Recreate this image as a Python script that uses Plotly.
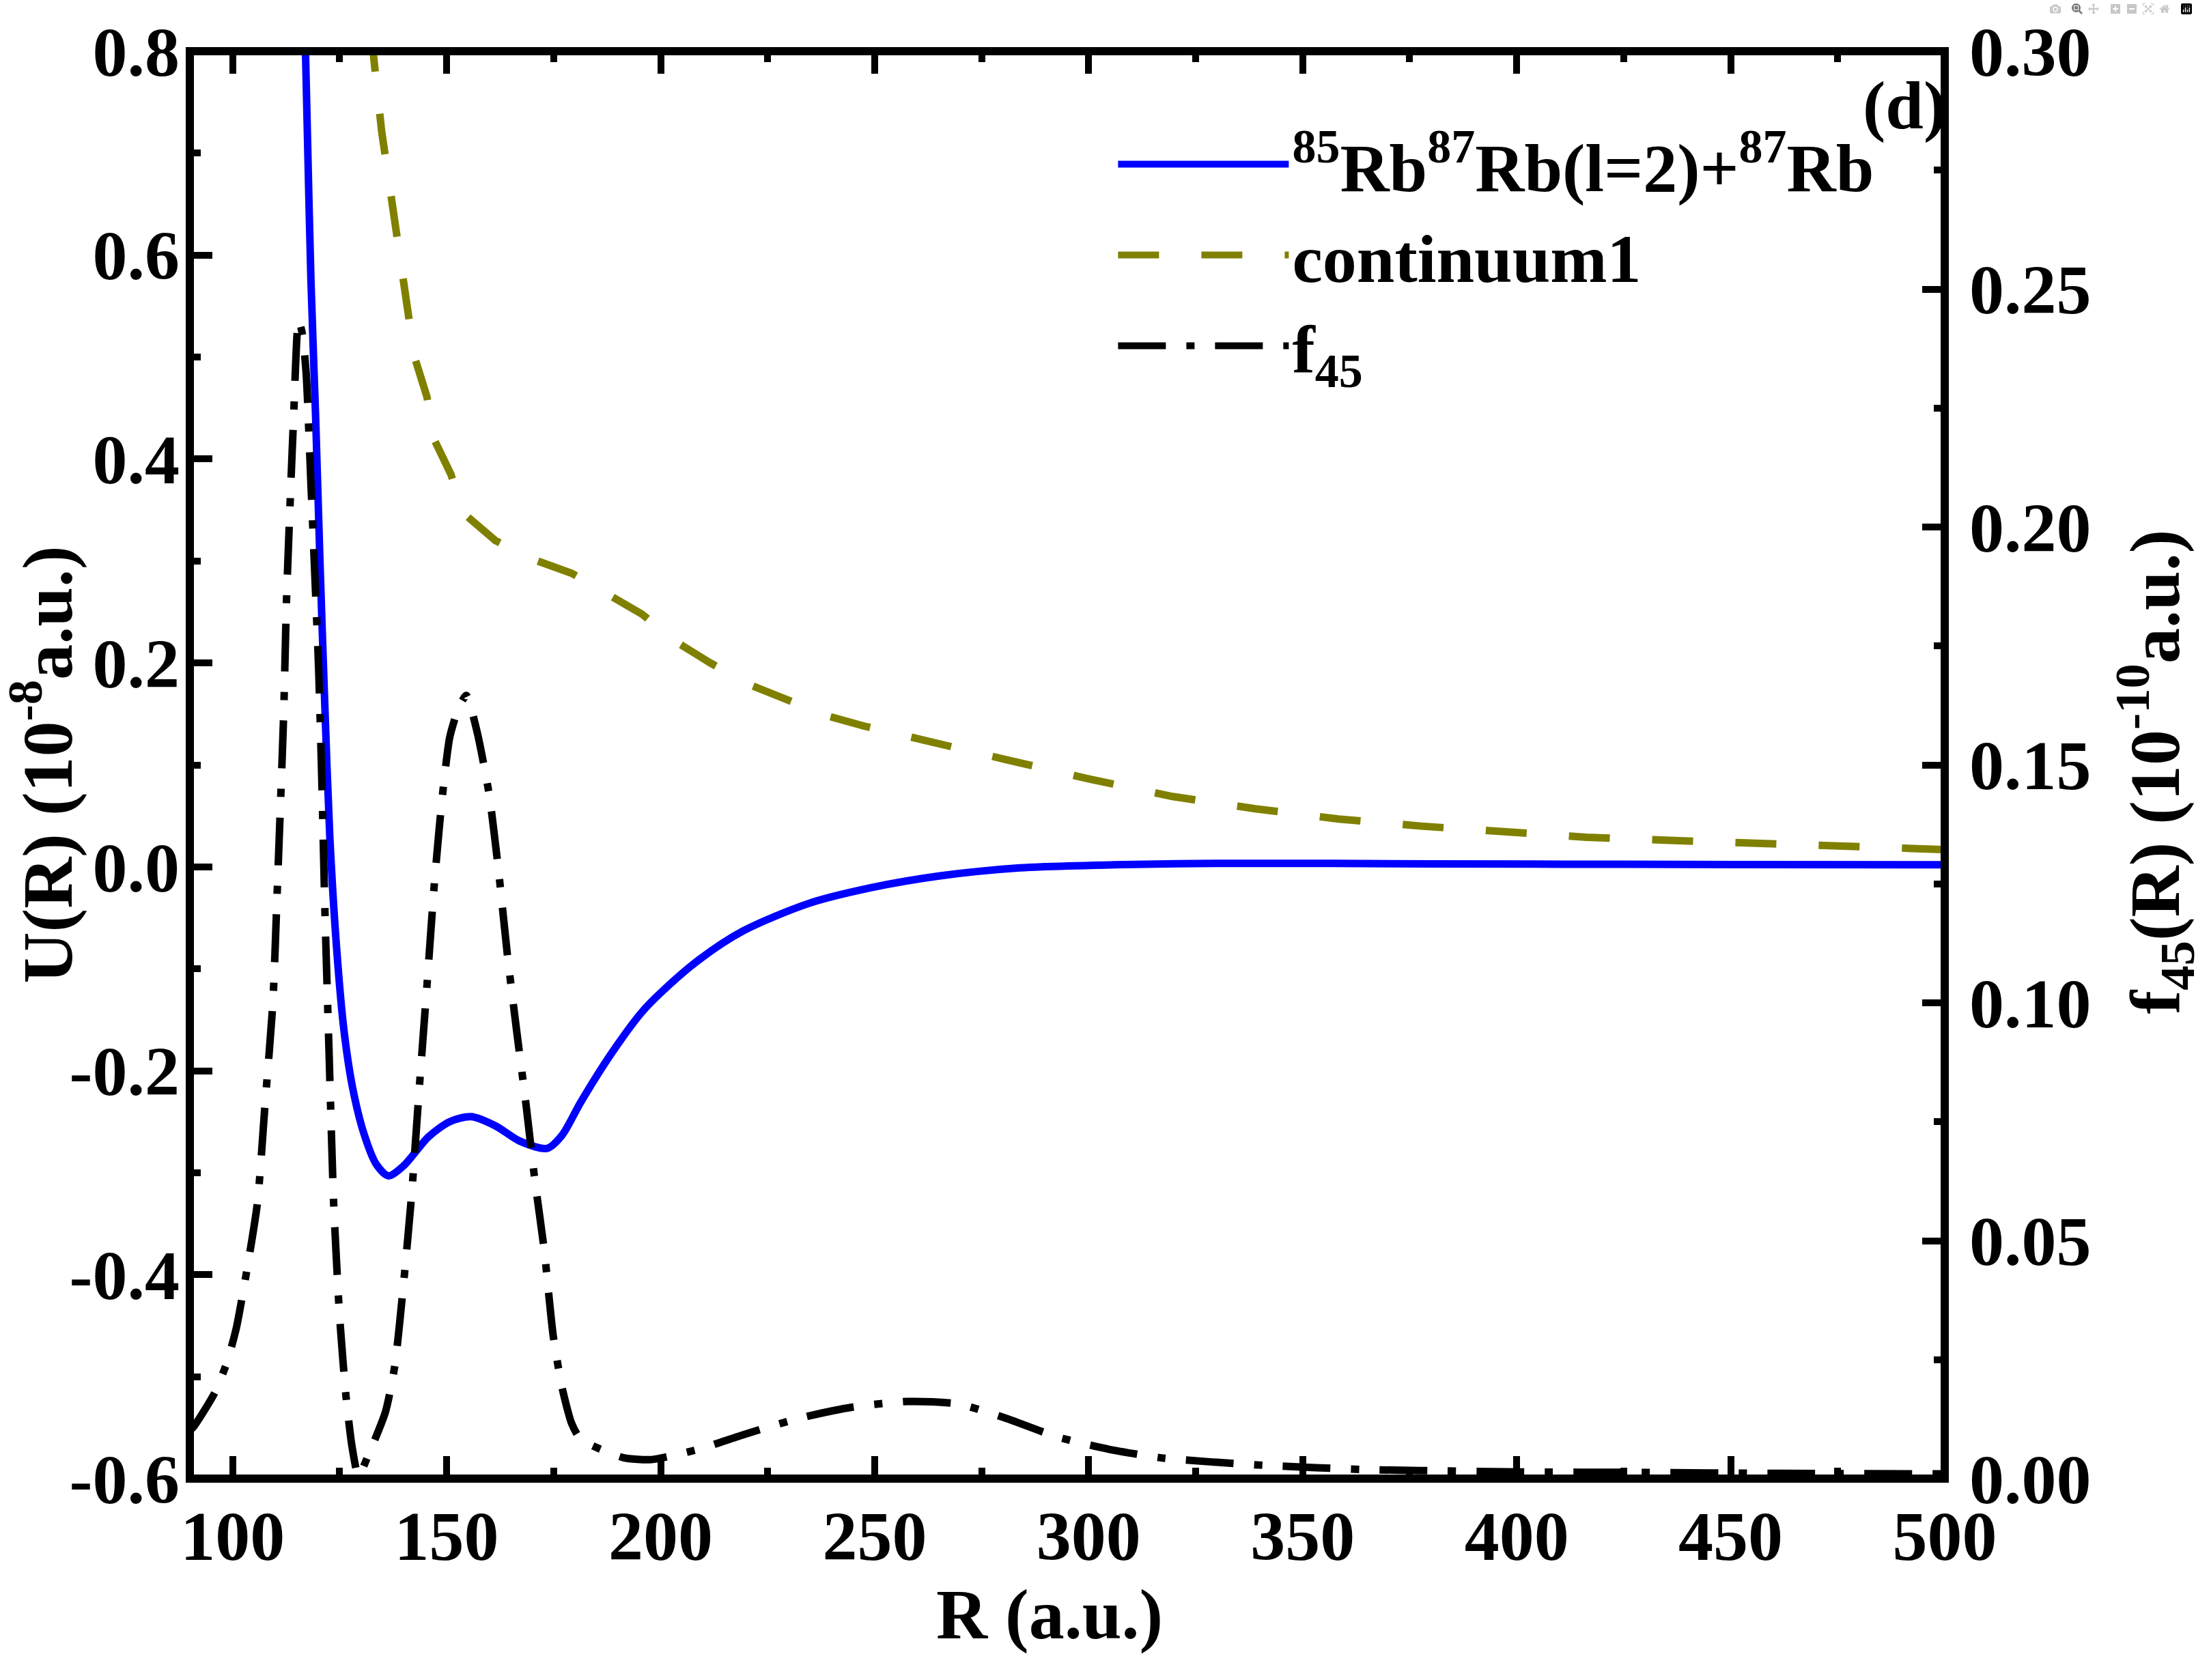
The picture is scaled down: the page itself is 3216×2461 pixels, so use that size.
import plotly.graph_objects as go

# U(R) potential curve, left axis (10^-8 a.u.)
r_u = [116.8, 117.5, 118.3, 119.4, 120.4, 121.5, 122.7, 124.3, 126.0, 128.0,
       130.7, 133.6, 136.4, 140.0, 145.7, 150.7, 155.7, 161.4, 167.1, 173.5,
       177.0, 181.3, 188.5, 195.5, 200.4, 209.0, 219.2, 234.5, 249.7, 265.0,
       284.0, 306.0, 331.5, 380.0, 424.0, 500.0]
u_vals = [0.84, 0.713, 0.575, 0.44, 0.30, 0.163, 0.03, -0.08, -0.16, -0.216,
          -0.262, -0.292, -0.303, -0.293, -0.265, -0.250, -0.245, -0.254, -0.269, -0.276,
          -0.263, -0.231, -0.183, -0.143, -0.122, -0.091, -0.063, -0.036, -0.020, -0.009,
          -0.001, 0.002, 0.0035, 0.003, 0.0025, 0.002]

# continuum1, left axis
r_cont = [132.5, 132.8, 134.8, 137.6, 140.1, 142.5, 145.4, 147.1, 151.0, 153.9,
          161.4, 170.6, 179.2, 187.4, 195.6, 203.9, 211.6, 221.2, 228.8, 239.0,
          247.6, 258.3, 266.5, 280.9, 300.3, 319.6, 338.9, 358.3, 377.6, 397.0,
          416.3, 435.7, 455.0, 474.4, 493.7, 500.0]
cont_vals = [0.82, 0.80, 0.722, 0.641, 0.563, 0.50, 0.461, 0.419, 0.385, 0.347,
             0.320, 0.301, 0.288, 0.267, 0.248, 0.220, 0.200, 0.178, 0.165, 0.148,
             0.138, 0.128, 0.119, 0.105, 0.086, 0.069, 0.057, 0.047, 0.040, 0.034,
             0.029, 0.026, 0.023, 0.020, 0.018, 0.017]

# f45(R), right axis (10^-10 a.u.)
r_f45 = [89.5, 90.8, 95.8, 98.7, 100.9, 103.7, 105.8, 107.6, 109.4, 110.4,
         111.9, 112.6, 113.6, 114.2, 115.4, 116.3, 117.2, 118.3, 119.2, 120.1,
         120.8, 121.6, 122.5, 123.6, 125.0, 126.5, 127.9, 129.4, 131.5, 135.7,
         137.9, 140.0, 141.8, 143.6, 145.4, 147.1, 148.9, 150.7, 152.8, 154.6,
         157.1, 159.9, 162.1, 164.2, 166.4, 168.5, 170.6, 172.8, 174.9, 177.0,
         179.2, 181.3, 191.3, 197.9, 209.0, 219.2, 232.4, 244.6, 257.5, 269.5,
         280.3, 292.5, 304.6, 316.7, 328.8, 340.9, 353.0, 365.1, 377.2, 401.4,
         427.4, 462.0, 500.0]
f45_vals = [0.0098, 0.0108, 0.018, 0.0245, 0.0318, 0.0458, 0.058, 0.079, 0.100, 0.123,
            0.160, 0.185, 0.209, 0.222, 0.2435, 0.2405, 0.232, 0.209, 0.190, 0.170,
            0.148, 0.118, 0.0905, 0.058, 0.034, 0.0172, 0.0067, 0.0005, 0.0045, 0.014,
            0.0238, 0.0416, 0.0595, 0.082, 0.1036, 0.1247, 0.1426, 0.1557, 0.162, 0.1646,
            0.157, 0.144, 0.128, 0.110, 0.0938, 0.079, 0.0628, 0.048, 0.030, 0.019,
            0.0116, 0.0083, 0.0044, 0.0040, 0.0062, 0.0092, 0.0127, 0.0150, 0.0162, 0.0157,
            0.0128, 0.0088, 0.0062, 0.0044, 0.0035, 0.0028, 0.0023, 0.0019, 0.0017, 0.0014,
            0.0013, 0.0011, 0.0010]

x_ticks = [100, 150, 200, 250, 300, 350, 400, 450, 500]
u_ticks = [-0.6, -0.4, -0.2, 0.0, 0.2, 0.4, 0.6, 0.8]
u_tick_text = ["-0.6", "-0.4", "-0.2", "0.0", "0.2", "0.4", "0.6", "0.8"]
f_ticks = [0.0, 0.05, 0.10, 0.15, 0.20, 0.25, 0.30]
f_tick_text = ["0.00", "0.05", "0.10", "0.15", "0.20", "0.25", "0.30"]

FONT = "Liberation Serif"
tick_font = dict(family=FONT, size=102, color="black", weight="bold")

fig = go.Figure()
fig.add_trace(go.Scatter(
    x=r_u, y=u_vals, mode="lines", name="<sup>85</sup>Rb<sup>87</sup>Rb(l=2)+<sup>87</sup>Rb",
    line=dict(color="#0000FF", width=11, shape="spline", smoothing=0.8)))
fig.add_trace(go.Scatter(
    x=r_cont, y=cont_vals, mode="lines", name="continuum1",
    line=dict(color="#808000", width=11, dash="60px,62px")))
fig.add_trace(go.Scatter(
    x=r_f45, y=f45_vals, mode="lines", name="f<sub>45</sub>", yaxis="y2",
    line=dict(color="black", width=11, dash="70px,30px,12px,30px", shape="spline", smoothing=0.6)))

axis_common = dict(ticks="inside", ticklen=33, tickwidth=10, tickcolor="black",
                   showgrid=False, zeroline=False, showline=False, tickfont=tick_font)

fig.update_layout(
    width=3216, height=2461,
    margin=dict(l=278, r=368, t=75, b=295),
    paper_bgcolor="white", plot_bgcolor="white",
    font=dict(family=FONT, size=100, color="black", weight="bold"),
    xaxis=dict(range=[90, 500], tickvals=x_ticks, mirror="ticks", ticklabelstandoff=16,
               minor=dict(ticks="inside", ticklen=16, tickwidth=10, tickcolor="black", dtick=25, tick0=0),
               **axis_common),
    yaxis=dict(range=[-0.6, 0.8], tickvals=u_ticks, ticktext=u_tick_text, ticklabelstandoff=14,
               minor=dict(ticks="inside", ticklen=16, tickwidth=10, tickcolor="black", dtick=0.1, tick0=0),
               **axis_common),
    yaxis2=dict(range=[0, 0.30], tickvals=f_ticks, ticktext=f_tick_text, ticklabelstandoff=35,
                overlaying="y", side="right",
                minor=dict(ticks="inside", ticklen=16, tickwidth=10, tickcolor="black", dtick=0.025, tick0=0),
                **axis_common),
    legend=dict(x=0.527, y=0.955, xanchor="left", yanchor="top", bgcolor="rgba(0,0,0,0)",
                font=dict(family=FONT, size=100, color="black", weight="bold"),
                itemwidth=250, tracegroupgap=0),
    showlegend=True,
    shapes=[dict(type="rect", xref="paper", yref="paper", x0=0, y0=0, x1=1, y1=1,
                 line=dict(color="black", width=12), layer="above")],
    annotations=[
        dict(text="R (a.u.)", xref="paper", yref="paper", x=0.49, y=0, xanchor="center",
             yanchor="middle", yshift=-199, showarrow=False,
             font=dict(family=FONT, size=104, color="black", weight="bold")),
        dict(text="U(R) (10<sup>-8</sup>a.u.)", xref="paper", yref="paper", x=0, y=0.5,
             xanchor="center", yanchor="middle", xshift=-216, textangle=-90, showarrow=False,
             font=dict(family=FONT, size=104, color="black", weight="bold")),
        dict(text="f<sub>45</sub>(R) (10<sup>-10</sup>a.u.)", xref="paper", yref="paper", x=1, y=0.5,
             xanchor="center", yanchor="middle", xshift=308, yshift=-10, textangle=-90, showarrow=False,
             font=dict(family=FONT, size=104, color="black", weight="bold")),
        dict(text="(d)", xref="paper", yref="paper", x=0.977, y=0.957, xanchor="center",
             yanchor="middle", yshift=10, showarrow=False,
             font=dict(family=FONT, size=100, color="black", weight="bold")),
    ],
)

fig.write_html("out.html", post_script="document.body.style.margin='0';")
